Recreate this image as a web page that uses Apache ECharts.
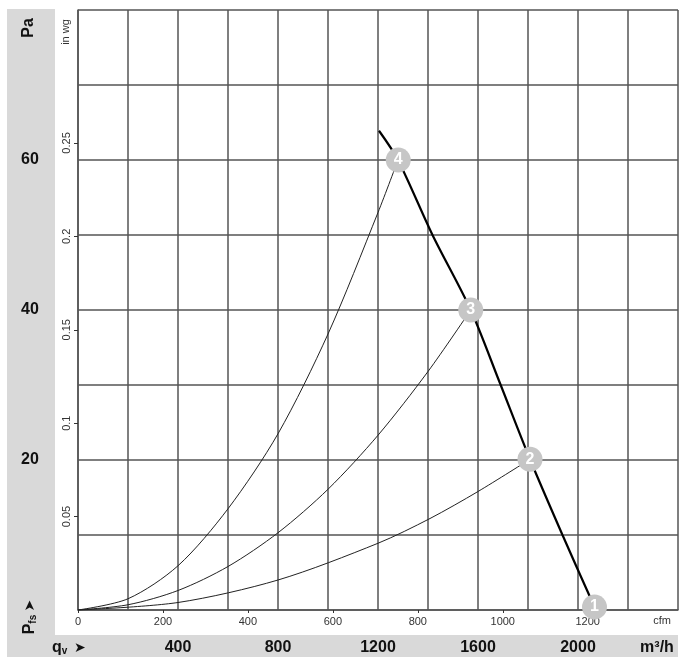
<!DOCTYPE html>
<html>
<head>
<meta charset="utf-8">
<script src="https://cdn.jsdelivr.net/npm/echarts@6/dist/echarts.min.js"></script>
<style>
  html, body { margin: 0; padding: 0; background: #fff; }
  #chart { width: 686px; height: 657px; }
</style>
</head>
<body>
<div id="chart"></div>
<script>
// fan curve, m3/h vs Pa
const fanCurve = [[1204, 63.9], [1280, 60], [1418, 50], [1571, 40], [1686, 30.4], [1808, 20.1], [1938, 10], [2066, 0.4]]
// system curves through the operating points
const system4 = [[0, 0], [200, 1.5], [400, 5.9], [600, 13.5], [800, 23.5], [1000, 36.8], [1200, 53], [1280, 60]]
const system3 = [[0, 0], [200, 0.7], [400, 2.6], [600, 5.8], [800, 10.3], [1000, 16.1], [1200, 23.3], [1400, 31.8], [1571, 40]]
const system2 = [[0, 0], [400, 1.0], [800, 4.0], [1200, 8.9], [1408, 12.2], [1600, 15.8], [1808, 20.1]]
const opPoints = [[2066, 0.4, '1'], [1808, 20.1, '2'], [1571, 40, '3'], [1281, 60, '4']]

const flowLabels = [400, 800, 1200, 1600, 2000]
const cfmLabels = [0, 200, 400, 600, 800, 1000, 1200]
const paLabels = [20, 40, 60]
const inwgLabels = [0.05, 0.1, 0.15, 0.2, 0.25]

const FLOW_MAX = 2400
const PA_MAX = 80
const CFM_PER_M3H = 0.588578
const PA_PER_INWG = 249.089

const gridColor = '#555'
const font = 'Liberation Sans, Arial, sans-serif'

const chart = echarts.init(document.getElementById('chart'))

const thinLine = (data) => ({
  type: 'line',
  data: data,
  smooth: 0.3,
  symbol: 'none',
  lineStyle: { color: '#222', width: 1 },
  z: 3,
})

const option = {
  animation: false,
  backgroundColor: '#fff',
  textStyle: { fontFamily: font },
  grid: { left: 78, top: 10, width: 600, height: 600 },
  xAxis: [
    {
      type: 'value',
      min: 0,
      max: FLOW_MAX,
      interval: 200,
      position: 'bottom',
      axisLine: { show: true, lineStyle: { color: gridColor, width: 1.5 } },
      axisTick: { show: false },
      splitLine: { show: true, lineStyle: { color: gridColor, width: 1.5 } },
      axisLabel: {
        customValues: flowLabels,
        margin: 30,
        color: '#111',
        fontSize: 16,
        fontWeight: 'bold',
        fontFamily: font,
        formatter: (v) => String(v),
      },
    },
    {
      type: 'value',
      min: 0,
      max: FLOW_MAX * CFM_PER_M3H,
      position: 'bottom',
      axisLine: { show: false },
      splitLine: { show: false },
      axisTick: {
        show: true,
        customValues: cfmLabels,
        length: 3,
        lineStyle: { color: '#333' },
      },
      axisLabel: {
        customValues: cfmLabels,
        margin: 6,
        color: '#333',
        fontSize: 11,
        fontFamily: font,
        formatter: (v) => String(v),
      },
    },
  ],
  yAxis: [
    {
      type: 'value',
      min: 0,
      max: PA_MAX,
      interval: 10,
      position: 'left',
      axisLine: { show: true, lineStyle: { color: gridColor, width: 1.5 } },
      axisTick: { show: false },
      splitLine: { show: true, lineStyle: { color: gridColor, width: 1.5 } },
      axisLabel: {
        customValues: paLabels,
        margin: 48,
        align: 'center',
        color: '#111',
        fontSize: 16,
        fontWeight: 'bold',
        fontFamily: font,
      },
    },
    {
      type: 'value',
      min: 0,
      max: PA_MAX / PA_PER_INWG,
      position: 'left',
      axisLine: { show: false },
      splitLine: { show: false },
      axisTick: {
        show: true,
        customValues: inwgLabels,
        length: 4,
        lineStyle: { color: '#333' },
      },
      axisLabel: {
        customValues: inwgLabels,
        rotate: 90,
        margin: 6,
        color: '#333',
        fontSize: 11,
        fontFamily: font,
        formatter: (v) => String(v),
      },
    },
  ],
  graphic: [
    { type: 'rect', shape: { x: 7, y: 9, width: 48, height: 648 }, style: { fill: '#d9d9d9' }, z: 0 },
    { type: 'rect', shape: { x: 7, y: 635, width: 671, height: 22 }, style: { fill: '#d9d9d9' }, z: 0 },
    {
      type: 'text', x: 29, y: 28, rotation: Math.PI / 2,
      style: { text: 'Pa', font: 'bold 16px ' + font, fill: '#111', align: 'center', verticalAlign: 'middle' },
    },
    {
      type: 'text', x: 66, y: 32, rotation: Math.PI / 2,
      style: { text: 'in wg', font: '11px ' + font, fill: '#333', align: 'center', verticalAlign: 'middle' },
    },
    {
      type: 'text', x: 30, y: 617, rotation: Math.PI / 2,
      style: {
        text: '{p|P}{s|fs} {a|➤}',
        align: 'center', verticalAlign: 'middle',
        rich: {
          p: { font: 'bold 16px ' + font, fill: '#111' },
          s: { font: 'bold 10px ' + font, fill: '#111', padding: [6, 0, 0, 0] },
          a: { font: 'bold 14px DejaVu Sans', fill: '#111' },
        },
      },
    },
    {
      type: 'text', x: 52, y: 648,
      style: {
        text: '{p|q}{s|v}  {a|➤}',
        verticalAlign: 'middle',
        rich: {
          p: { font: 'bold 16px ' + font, fill: '#111' },
          s: { font: 'bold 10px ' + font, fill: '#111', padding: [6, 0, 0, 0] },
          a: { font: 'bold 14px DejaVu Sans', fill: '#111' },
        },
      },
    },
    {
      type: 'text', x: 657, y: 648,
      style: { text: 'm³/h', font: 'bold 16px ' + font, fill: '#111', align: 'center', verticalAlign: 'middle' },
    },
    {
      type: 'text', x: 662, y: 621,
      style: { text: 'cfm', font: '11px ' + font, fill: '#333', align: 'center', verticalAlign: 'middle' },
    },
  ],
  series: [
    thinLine(system4),
    thinLine(system3),
    thinLine(system2),
    {
      type: 'line',
      data: fanCurve,
      smooth: 0.3,
      symbol: 'none',
      lineStyle: { color: '#000', width: 2.2 },
      z: 4,
    },
    {
      type: 'scatter',
      data: opPoints,
      symbolSize: 25,
      itemStyle: { color: '#c6c6c6', opacity: 1 },
      label: {
        show: true,
        position: 'inside',
        formatter: (p) => p.value[2],
        color: '#fff',
        fontSize: 16,
        fontWeight: 'bold',
        fontFamily: font,
      },
      z: 5,
    },
  ],
}

chart.setOption(option)
</script>
</body>
</html>
